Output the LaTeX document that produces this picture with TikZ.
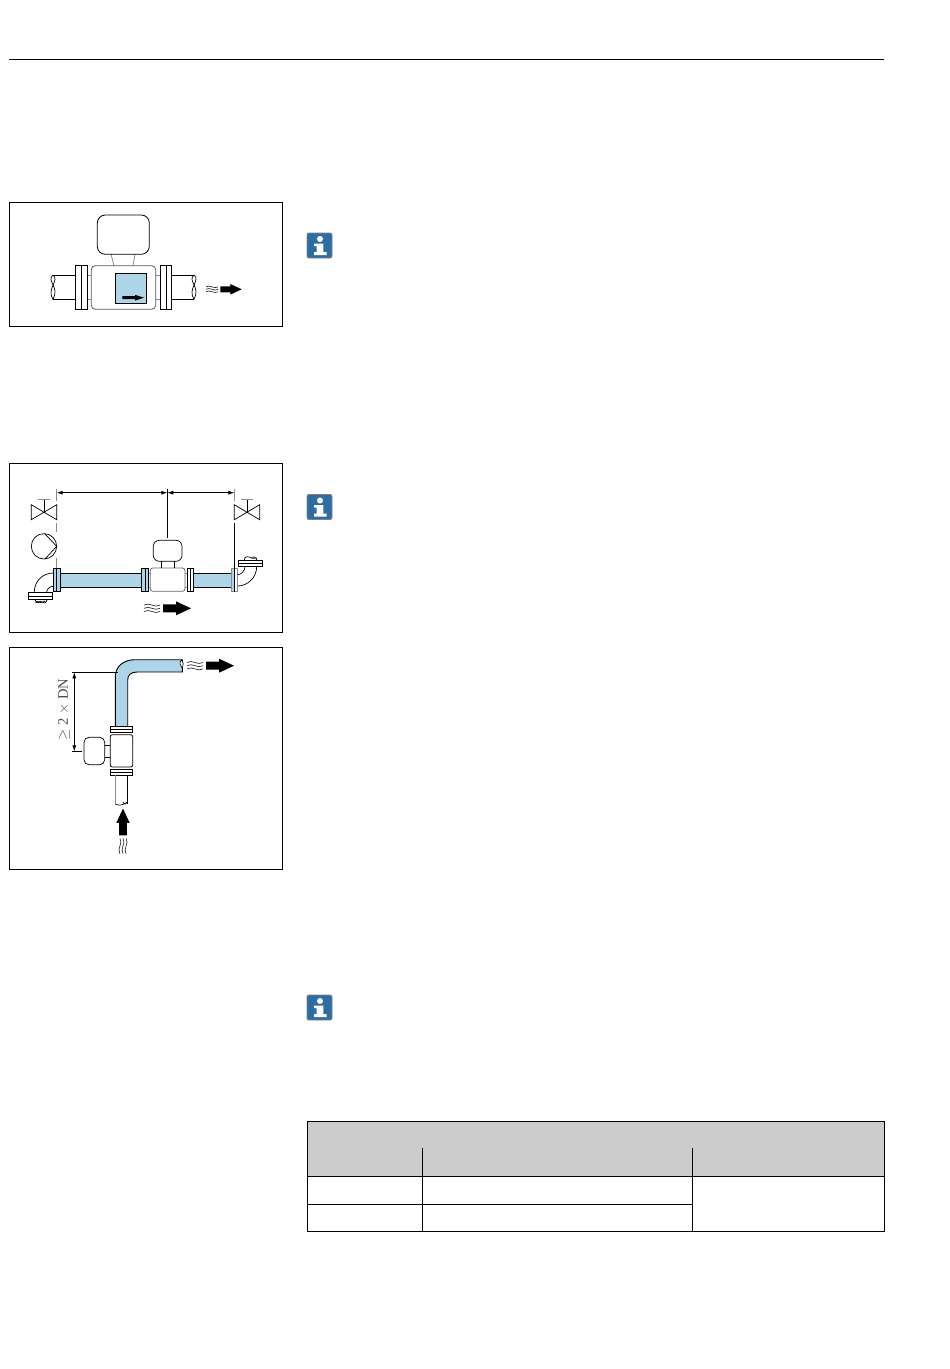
\documentclass[tikz,border=0pt]{standalone}
\usepackage{fontspec}
\setmainfont{Liberation Serif}
\usepackage{xcolor}
\usetikzlibrary{arrows.meta}
\definecolor{pipeblue}{RGB}{174,212,232}
\definecolor{infoblue}{RGB}{46,109,164}
\definecolor{headgray}{RGB}{204,204,204}
\tikzset{
  framebox/.style={draw=black, line width=0.9pt},
  thinline/.style={line width=0.7pt},
  greyline/.style={draw=black!45, line width=0.8pt},
  tableline/.style={draw=black, line width=0.9pt},
  infoicon/.pic={
    \draw[fill=infoblue, draw=black!50, line width=0.9pt, rounded corners=2pt] (0,0) rectangle (25,25);
    \fill[white] (13,6) circle (3);
    \fill[white] (7,10.7) -- (16.3,10.7) -- (16.3,19) -- (19.7,19) -- (19.7,22) -- (7,22) -- (7,19) -- (9.7,19) -- (9.7,13) -- (7,13) -- cycle;
  },
  flowmark/.pic={
    \foreach \wy in {-3.2,0,3.2}
      \draw[line width=0.65pt, black!85] (0,\wy) .. controls (5,\wy-3.5) and (11,\wy+3.5) .. (16,\wy);
    \fill[black] (19,-4) -- (32,-4) -- (32,-7) -- (47,0) -- (32,7) -- (32,4) -- (19,4) -- cycle;
  }
}
\begin{document}
\begin{tikzpicture}[x=1pt, y=-1pt, >={Latex[length=6pt,width=4pt]}, thinline]
  \useasboundingbox (0,0) rectangle (950,1369);
  \fill[white] (0,0) rectangle (950,1369);

  % top rule
  \draw[line width=0.8pt] (9,59.5) -- (884,59.5);

  % frames
  \draw[framebox] (9.5,202) rectangle (282.5,326);
  \draw[framebox] (9.5,463.5) rectangle (282.5,632);
  \draw[framebox] (9.5,647.5) rectangle (282.5,869.5);

  % info icons
  \pic at (307,233) {infoicon};
  \pic at (307,494.5) {infoicon};
  \pic at (307,995) {infoicon};

  % first meter
  \draw (53,275) -- (75.7,275) (53,299.3) -- (75.7,299.3);
  \draw (53,275) .. controls (46,281) and (60,287) .. (53,299.3);
  \draw (53,275) .. controls (60,280) and (46,289) .. (53,299.3);
  \draw (171.7,275) -- (194,275) (171.7,299.3) -- (194,299.3);
  \draw (194,275) .. controls (187,281) and (201,287) .. (194,299.3);
  \draw (194,275) .. controls (201,280) and (187,289) .. (194,299.3);
  \draw[greyline] (87.7,275) -- (91.3,275) (87.7,299.3) -- (91.3,299.3);
  \draw[greyline] (155.7,275) -- (160.3,275) (155.7,299.3) -- (160.3,299.3);
  \draw[greyline] (111,254) -- (114,266) (135,254) -- (133,266);
  \draw[rounded corners=8pt, line width=0.8pt] (97.3,215) rectangle (149.3,254.3);
  \draw[rounded corners=4pt, line width=0.8pt, draw=black!65] (91.3,265.7) rectangle (155.7,309.3);
  \draw[line width=0.8pt] (75.7,265.3) rectangle (87.7,309.3) (81.7,265.3) -- (81.7,309.3);
  \draw[line width=0.8pt] (160.3,265.3) rectangle (171.7,309.3) (166.3,265.3) -- (166.3,309.3);
  \draw[fill=pipeblue, line width=0.8pt] (115.3,273.3) rectangle (146.7,303.3);
  \fill[black] (122.3,296.2) -- (135,296.2) -- (135,294.8) -- (144,297.7) -- (135,300.6) -- (135,299.2) -- (122.3,299.2) -- cycle;
  \pic at (206,289.3) [scale=0.76] {flowmark};

  % second meter, dimension lines
  \coordinate (dimleft) at (56.7,492.7);
  \coordinate (dimmid) at (167.3,492.7);
  \coordinate (dimright) at (234.3,492.7);
  \draw[<->] (dimleft) -- (dimmid);
  \draw[<->] (dimmid) -- (dimright);
  \draw[greyline] (56.7,489) -- (56.7,501) (56.7,523) -- (56.7,532) (56.7,558) -- (56.7,568);
  \draw[greyline] (234.3,489) -- (234.3,501);
  \draw (167.3,489) -- (167.3,538);
  \draw (234.3,523) -- (234.3,568);

  % valves and pump
  \draw (31.3,504.7) -- (56.7,519.7) -- (56.7,504.7) -- (31.3,519.7) -- cycle;
  \draw (44,512) -- (44,499);
  \draw[greyline] (38,499) -- (50,499);
  \draw (234.3,504.7) -- (259.7,519.7) -- (259.7,504.7) -- (234.3,519.7) -- cycle;
  \draw (247,512) -- (247,499);
  \draw[greyline] (241,499) -- (253,499);
  \draw (44,546.3) circle (12.7);
  \draw (45,534) -- (56.7,546.3) -- (45,559);

  % second meter, pipe
  \draw[fill=pipeblue, line width=0.9pt] (60.3,573.3) rectangle (141.3,587);
  \draw[fill=pipeblue, line width=0.9pt] (193.7,573.3) rectangle (231.3,587);
  \draw[fill=pipeblue, line width=0.8pt] (53.3,568) rectangle (60,591.7) (56.7,568) -- (56.7,591.7);
  \draw[fill=pipeblue, line width=0.8pt] (141.3,568) rectangle (148.7,591.7) (145,568) -- (145,591.7);
  \draw[fill=white, line width=0.8pt] (187.3,568) rectangle (193.7,591.7) (190.5,568) -- (190.5,591.7);
  \fill[pipeblue] (231.3,568) rectangle (234.3,591.7);
  \draw[line width=0.8pt] (231.3,568) -- (231.3,591.7);
  \draw[greyline] (231.3,568) rectangle (237.7,591.7);
  \draw (234.3,568) -- (234.3,591.7);
  \draw[greyline] (148.7,573.3) -- (150.3,573.3) (148.7,587) -- (150.3,587);
  \draw[greyline] (185,573.3) -- (187.3,573.3) (185,587) -- (187.3,587);
  \draw[rounded corners=2.5pt, draw=black!60, line width=0.8pt] (150.3,568) rectangle (185,591.3);
  \draw[rounded corners=6pt] (153.3,540.3) rectangle (182,561.3);
  \draw (161.3,561.3) -- (161.3,568) (174,561.3) -- (174,568);
  \pic at (144,608.3) {flowmark};

  % elbows
  \draw (53.3,573) .. controls (42,573) and (34.3,582) .. (34.3,592);
  \draw (53.3,586.3) .. controls (50,586.3) and (46.7,589) .. (46.7,592);
  \draw[line width=0.8pt] (28.3,592.3) rectangle (52.7,599.7) (28.3,596) -- (52.7,596);
  \draw (35,600) .. controls (37,604) and (40,600) .. (42,602) .. controls (44,604) and (46,603) .. (47,600);
  \draw (35,602) .. controls (38,603) and (42,603) .. (45,601);
  \draw (237.7,586) .. controls (248,586) and (256.7,577) .. (256.7,566.7);
  \draw (237.7,574.7) .. controls (241,574.7) and (245,571) .. (245,566.7);
  \draw[line width=0.8pt] (238.7,560.3) rectangle (262.7,566.7) (238.7,563.5) -- (262.7,563.5);
  \draw (244.3,560) .. controls (244,555) and (250,557) .. (252,558) .. controls (254,556) and (257,557) .. (256.7,560);
  \fill[black!60] (251,557) rectangle (256,559);

  % third meter
  \draw[fill=pipeblue, line width=0.9pt] (115.3,726) -- (115.3,677) .. controls (115.3,666) and (124,659.7) .. (135,659.7) -- (182.3,659.7) -- (182.3,672) -- (137,672) .. controls (131,672) and (127.7,675) .. (127.7,680) -- (127.7,726);
  \draw[line width=0.6pt, fill=white] (181.5,660) .. controls (179,662) and (180,665) .. (182.3,668) .. controls (183.5,665) and (184,662) .. (181.5,660);
  \coordinate (dimtop) at (74.3,672.3);
  \coordinate (dimbottom) at (74.3,751.3);
  \draw[<->] (dimtop) -- (dimbottom);
  \draw (71.7,672.3) -- (118,672.3);
  \draw (71.7,751.3) -- (82,751.3);
  \node[rotate=90, text=black!70, font=\fontsize{14.5}{16}\selectfont, inner sep=0pt] (dnlabel) at (64,709.7) {$\geq$ 2 $\times$ DN};
  \draw[line width=0.8pt] (110.3,726.7) rectangle (132.7,732.7) (110.3,729.5) -- (132.7,729.5);
  \draw[rounded corners=2pt, line width=0.8pt] (110.3,734.7) rectangle (132.7,767);
  \draw[line width=0.8pt] (110.3,769) rectangle (132.7,775.3) (110.3,772) -- (132.7,772);
  \draw[rounded corners=5pt] (84,737.3) rectangle (104.7,764.7);
  \draw (104.7,745.3) -- (110.3,745.3) (104.7,757) -- (110.3,757);
  \draw[greyline] (115.3,775.3) -- (115.3,804);
  \draw (127.7,775.3) -- (127.7,804);
  \draw (115.3,804) .. controls (118,806) and (124,805) .. (127.7,802);
  \draw (123,802) .. controls (124,806) and (127,803) .. (127.7,802);
  \pic at (123,853.7) [rotate=90, scale=0.96] {flowmark};
  \pic at (187,665.7) {flowmark};

  % table
  \fill[headgray] (307,1121) rectangle (884.5,1176);
  \draw[tableline] (307,1121) rectangle (884.5,1231);
  \draw[tableline] (307,1176) -- (884.5,1176);
  \draw[tableline] (307,1204) -- (692,1204);
  \draw[tableline] (422.5,1148) -- (422.5,1231);
  \draw[tableline] (692.5,1148) -- (692.5,1231);
\end{tikzpicture}
\end{document}
